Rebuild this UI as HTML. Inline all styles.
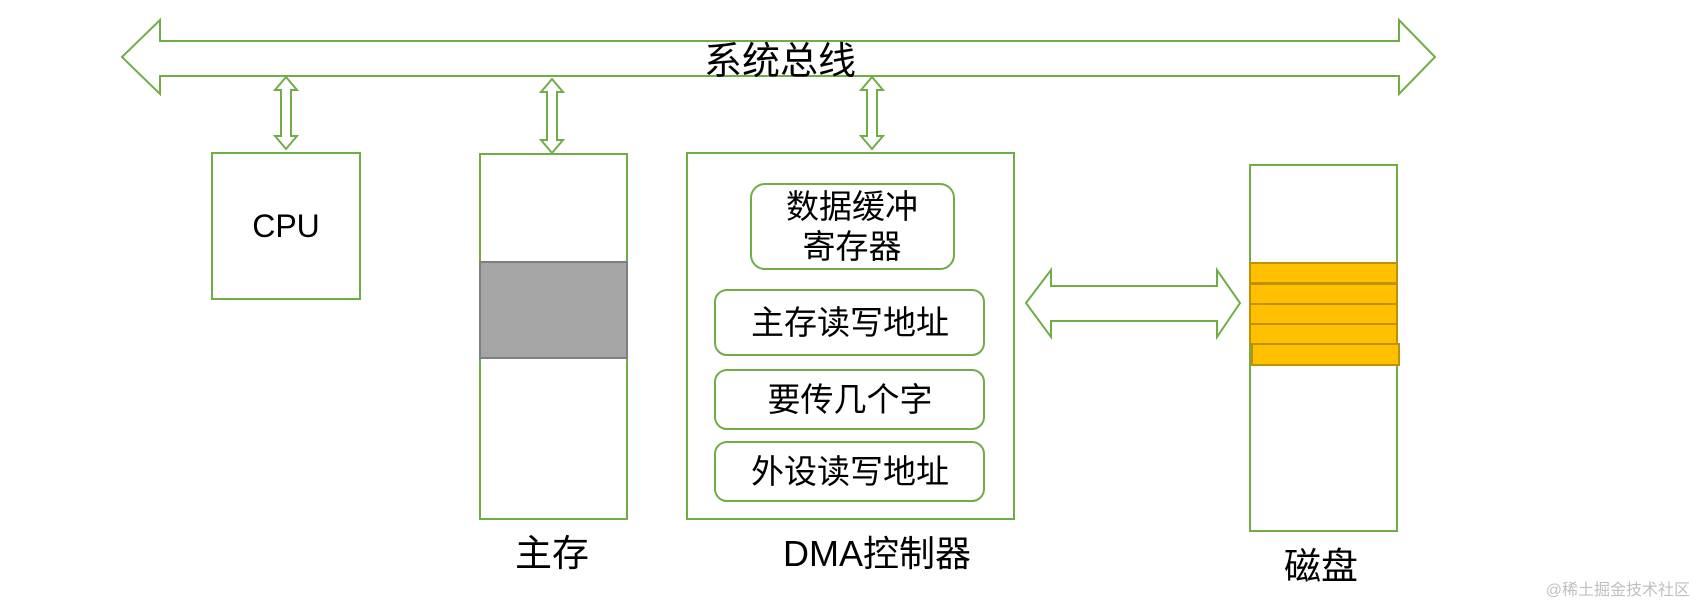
<!DOCTYPE html>
<html><head><meta charset="utf-8"><style>
html,body{margin:0;padding:0;background:#fff;}
svg{display:block;}
text{font-family:"Liberation Sans","Noto Sans CJK SC",sans-serif;fill:#000;}
</style></head><body>
<svg width="1698" height="606" viewBox="0 0 1698 606" xmlns="http://www.w3.org/2000/svg">
<g fill="#fff" stroke="#70ad47" stroke-width="2">
<polygon points="122,57 160,20 160,41 1399,41 1399,20 1435,57 1399,94 1399,76 160,76 160,94"/>
<polygon points="286,77 297,90 291,90 291,136 297,136 286,149 275,136 281,136 281,90 275,90"/>
<polygon points="552,79 563,92 557,92 557,140 563,140 552,153 541,140 547,140 547,92 541,92"/>
<polygon points="872,77 883,90 877,90 877,136 883,136 872,149 861,136 867,136 867,90 861,90"/>
<rect x="212" y="153" width="148" height="146"/>
<rect x="480" y="154" width="147" height="365"/>
<rect x="687" y="153" width="327" height="366"/>
<rect x="751" y="184" width="203" height="85" rx="14"/>
<rect x="715" y="290" width="269" height="65" rx="12"/>
<rect x="715" y="370" width="269" height="59" rx="12"/>
<rect x="715" y="442" width="269" height="59" rx="12"/>
<rect x="1250" y="165" width="147" height="366"/>
<polygon points="1026,303 1051,270 1051,286 1217,286 1217,270 1240,303 1217,337 1217,321 1051,321 1051,337"/>
</g>
<rect x="480" y="262" width="147" height="96" fill="#a5a5a5" stroke="#7f7f7f" stroke-width="2"/>
<g fill="#ffc000" stroke="#bf9000" stroke-width="2">
<rect x="1250" y="263" width="147" height="20"/>
<rect x="1250" y="284" width="147" height="20"/>
<rect x="1250" y="304" width="147" height="20"/>
<rect x="1250" y="324" width="147" height="20"/>
<rect x="1252" y="344" width="147" height="21"/>
</g>
<text x="780" y="74" font-size="38" text-anchor="middle">系统总线</text>
<text x="286" y="237" font-size="32" text-anchor="middle">CPU</text>
<text x="852" y="218" font-size="33" text-anchor="middle">数据缓冲</text>
<text x="852" y="258" font-size="33" text-anchor="middle">寄存器</text>
<text x="850" y="334" font-size="33" text-anchor="middle">主存读写地址</text>
<text x="850" y="411" font-size="33" text-anchor="middle">要传几个字</text>
<text x="850" y="483" font-size="33" text-anchor="middle">外设读写地址</text>
<text x="552" y="566" font-size="37" text-anchor="middle">主存</text>
<text x="877" y="566" font-size="36" text-anchor="middle">DMA控制器</text>
<text x="1321" y="579" font-size="37" text-anchor="middle">磁盘</text>
<text x="1690" y="595" font-size="16" text-anchor="end" style="fill:#c0c0c0">@稀土掘金技术社区</text>
</svg>
</body></html>
